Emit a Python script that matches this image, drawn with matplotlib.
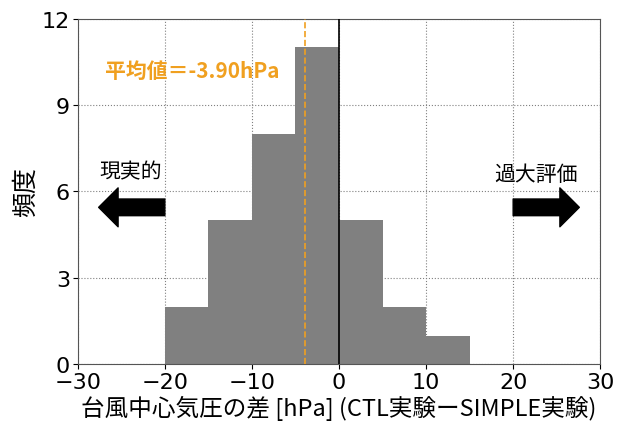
import numpy as np
import matplotlib
matplotlib.use('Agg')
import matplotlib.pyplot as plt

plt.rcParams['font.family'] = ['Noto Sans CJK JP', 'DejaVu Sans']

# bin edges and counts
bin_edges = [-20, -15, -10, -5, 0, 5, 10, 15]
counts = [2, 5, 8, 11, 5, 2, 1]
mean_val = -3.90

fig = plt.figure(figsize=(6.22, 4.35), dpi=100)
ax = fig.add_axes([0.125, 0.16, 0.84, 0.795])

ax.bar(bin_edges[:-1], counts, width=np.diff(bin_edges), align='edge',
       color='#808080', zorder=2)
ax.axvline(0, color='black', lw=1.2, zorder=3)
ax.axvline(mean_val, color='#F0A020', lw=1.2, ls='--', zorder=3)

ax.set_xlim(-30, 30)
ax.set_ylim(0, 12)
ax.set_xticks([-30, -20, -10, 0, 10, 20, 30])
ax.set_yticks([0, 3, 6, 9, 12])
ax.grid(True, ls=':', color='gray', lw=0.8, zorder=0)
ax.tick_params(labelsize=16, pad=2)
for lab in ax.get_xticklabels() + ax.get_yticklabels():
    lab.set_fontfamily('DejaVu Sans')
for s in ax.spines.values():
    s.set_color('#555555')

ax.set_xlabel('台風中心気圧の差 [hPa] (CTL実験ーSIMPLE実験)', fontsize=17, labelpad=2)
ax.set_ylabel('頻度', fontsize=18)
ax.yaxis.set_label_coords(-0.075, 0.5)

ax.text(-16.9, 10.2, '平均値＝-3.90hPa', color='#F0A020', fontsize=15,
        fontweight='bold', ha='center', va='center')
ax.text(-23.9, 6.7, '現実的', fontsize=15, ha='center', va='center')
ax.text(22.6, 6.6, '過大評価', fontsize=15, ha='center', va='center')

ax.annotate('', xy=(-27.6, 5.45), xytext=(-20, 5.45),
            arrowprops=dict(facecolor='black', edgecolor='black', width=12,
                            headwidth=28, headlength=14), zorder=4)
ax.annotate('', xy=(27.6, 5.45), xytext=(20, 5.45),
            arrowprops=dict(facecolor='black', edgecolor='black', width=12,
                            headwidth=28, headlength=14), zorder=4)

fig.savefig('out.png', dpi=100)
